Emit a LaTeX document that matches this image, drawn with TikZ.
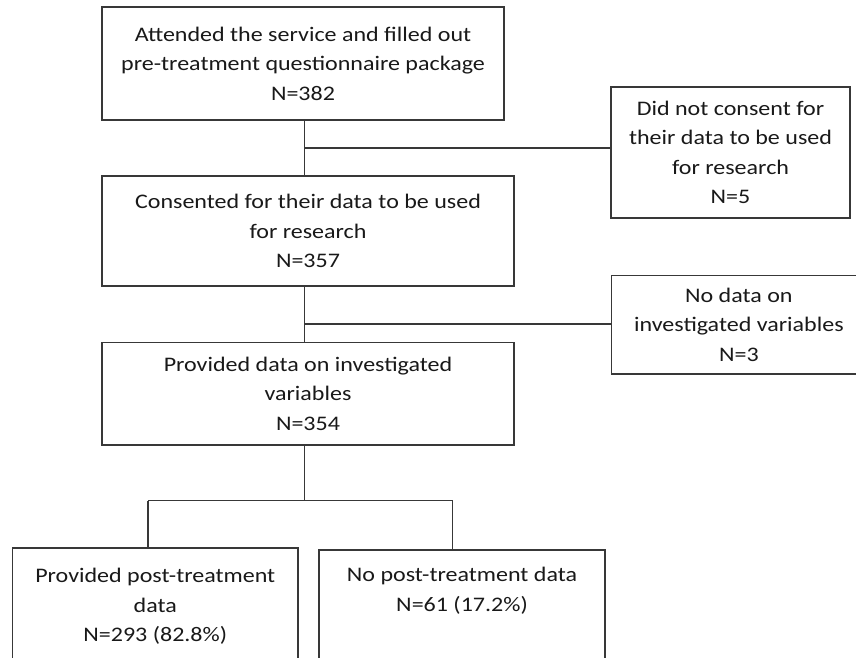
\documentclass[tikz,border=0pt]{standalone}
\usepackage{fontspec}
\setmainfont{Carlito}[FakeStretch=1.16]
\begin{document}
\begin{tikzpicture}[x=1pt,y=-1pt,
  box/.style={draw=black!78,line width=1.1pt,align=center,inner sep=0pt,
    font=\fontsize{20.7}{29.5}\selectfont,text=black!90},
  conn/.style={draw=black!78,line width=1.1pt}]
\useasboundingbox[fill=white] (0,0) rectangle (856,658);
\node[box,minimum width=402pt,minimum height=113pt] (A) at (303,63.5)
  {Attended the service and filled out\\pre-treatment questionnaire package\\N=382};
\node[box,minimum width=239pt,minimum height=131pt] (R1) at (730.5,152.5)
  {Did not consent for\\their data to be used\\for research\\N=5};
\node[box,minimum width=412pt,minimum height=110pt] (B) at (308,231)
  {Consented for their data to be used\\for research\\N=357};
\node[box,minimum width=254.3pt,minimum height=98.3pt] (R2) at (738.85,324.85)
  {No data on\\investigated variables\\N=3};
\node[box,minimum width=412pt,minimum height=102.3pt] (C) at (308,393.85)
  {Provided data on investigated\\variables\\N=354};
\node[box,minimum width=285.5pt,minimum height=117pt] (D) at (155.25,606.5)
  {Provided post-treatment\\data\\N=293 (82.8\%)};
\node[box,minimum width=286pt,minimum height=117pt] (E) at (462,608.5)
  {No post-treatment data\\N=61 (17.2\%)\\\strut};
\coordinate (t1) at (304.6,148);
\coordinate (t2) at (304.6,324);
\coordinate (s) at (304.6,500.7);
\coordinate (sl) at (148,500.7);
\coordinate (sr) at (452.5,500.7);
\draw[conn] (A.south -| t1) -- (B.north -| t1);
\draw[conn] (t1) -- (t1 -| R1.west);
\draw[conn] (B.south -| t2) -- (C.north -| t2);
\draw[conn] (t2) -- (t2 -| R2.west);
\draw[conn] (C.south -| s) -- (s);
\draw[conn] (sl) -- (sr);
\draw[conn] (sl) -- (sl |- D.north);
\draw[conn] (sr) -- (sr |- E.north);
\end{tikzpicture}
\end{document}
